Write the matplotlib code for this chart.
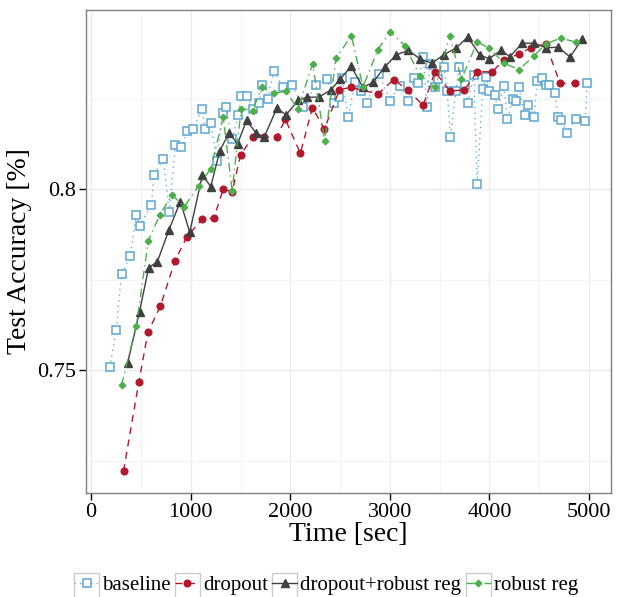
import numpy as np
import matplotlib
matplotlib.use("Agg")
import matplotlib.pyplot as plt
from matplotlib.patches import Rectangle

# data
baseline_t = [188, 251, 305, 393, 453, 486, 604, 634, 725, 785, 846, 906, 967, 1023,
              1114, 1141, 1201, 1262, 1322, 1352, 1416, 1476, 1503, 1567, 1627, 1688,
              1715, 1772, 1836, 1927, 2014, 2131, 2254, 2373, 2437, 2494, 2518, 2584,
              2646, 2709, 2767, 2888, 3004, 3098, 3185, 3246, 3279, 3336, 3370, 3400,
              3457, 3487, 3545, 3575, 3608, 3662, 3696, 3752, 3782, 3843, 3877, 3933,
              3968, 3994, 4054, 4085, 4145, 4179, 4236, 4270, 4296, 4353, 4387, 4447,
              4481, 4532, 4565, 4598, 4656, 4686, 4719, 4779, 4867, 4961, 4981]
baseline_acc = [0.7508, 0.7612, 0.7766, 0.7815, 0.7929, 0.7898, 0.7957, 0.8040, 0.8084,
                0.7936, 0.8122, 0.8116, 0.8161, 0.8166, 0.8222, 0.8167, 0.8182, 0.8079,
                0.8210, 0.8226, 0.8138, 0.8204, 0.8256, 0.8256, 0.8221, 0.8238, 0.8287,
                0.8249, 0.8325, 0.8282, 0.8287, 0.8228, 0.8287, 0.8304, 0.8238, 0.8254,
                0.8308, 0.8199, 0.8297, 0.8270, 0.8238, 0.8318, 0.8244, 0.8286, 0.8244,
                0.8308, 0.8293, 0.8365, 0.8226, 0.8345, 0.8282, 0.8304, 0.8336, 0.8272,
                0.8144, 0.8272, 0.8336, 0.8288, 0.8238, 0.8316, 0.8014, 0.8276, 0.8309,
                0.8272, 0.8259, 0.8222, 0.8286, 0.8194, 0.8249, 0.8244, 0.8282, 0.8205,
                0.8231, 0.8199, 0.8299, 0.8308, 0.8288, 0.8288, 0.8265, 0.8199, 0.8190,
                0.8156, 0.8193, 0.8189, 0.8293]

dropout_t = [325, 480, 570, 695, 842, 963, 1118, 1232, 1326, 1416, 1500, 1621, 1738,
             1863, 1950, 2101, 2222, 2342, 2494, 2611, 2880, 3037, 3182, 3333, 3454,
             3601, 3749, 3877, 4028, 4145, 4296, 4414, 4565, 4709, 4864]
dropout_acc = [0.7222, 0.7469, 0.7605, 0.7677, 0.7803, 0.7869, 0.7918, 0.7920, 0.8000,
               0.7993, 0.8094, 0.8144, 0.8144, 0.8144, 0.8193, 0.8099, 0.8225, 0.8166,
               0.8275, 0.8281, 0.8263, 0.8302, 0.8274, 0.8231, 0.8324, 0.8271, 0.8274,
               0.8324, 0.8324, 0.8357, 0.8373, 0.8390, 0.8401, 0.8292, 0.8292]

drop_rob_t = [366, 486, 577, 665, 782, 896, 990, 1118, 1201, 1292, 1386, 1470, 1561,
              1655, 1738, 1866, 1957, 2078, 2168, 2286, 2407, 2501, 2611, 2729, 2831,
              2947, 3064, 3185, 3306, 3424, 3541, 3666, 3782, 3903, 3994, 4115, 4205,
              4330, 4447, 4572, 4689, 4810, 4930]
drop_rob_acc = [0.7520, 0.7662, 0.7783, 0.7800, 0.7888, 0.7966, 0.7881, 0.8040, 0.8007,
                0.8106, 0.8156, 0.8125, 0.8190, 0.8155, 0.8144, 0.8224, 0.8205, 0.8245,
                0.8254, 0.8254, 0.8274, 0.8304, 0.8339, 0.8281, 0.8295, 0.8337, 0.8371,
                0.8383, 0.8359, 0.8348, 0.8371, 0.8390, 0.8420, 0.8371, 0.8360, 0.8383,
                0.8366, 0.8403, 0.8403, 0.8390, 0.8392, 0.8365, 0.8414]

robust_t = [305, 453, 574, 691, 812, 937, 1081, 1201, 1326, 1416, 1507, 1621, 1712,
            1833, 1957, 2076, 2224, 2345, 2460, 2614, 2729, 2880, 3000, 3155, 3299,
            3454, 3601, 3719, 3877, 3994, 4145, 4296, 4447, 4565, 4716, 4867]
robust_acc = [0.7459, 0.7622, 0.7857, 0.7930, 0.7984, 0.7952, 0.8010, 0.8056, 0.8199,
              0.7996, 0.8222, 0.8217, 0.8281, 0.8265, 0.8270, 0.8221, 0.8346, 0.8133,
              0.8362, 0.8424, 0.8282, 0.8385, 0.8434, 0.8396, 0.8313, 0.8281, 0.8423,
              0.8304, 0.8406, 0.8390, 0.8348, 0.8330, 0.8368, 0.8401, 0.8417, 0.8406]

labels = ["baseline", "dropout", "dropout+robust reg", "robust reg"]

plt.rcParams['font.family'] = ['Liberation Serif', 'DejaVu Serif']

fig = plt.figure(figsize=(6.27, 5.97), dpi=100)
ax = fig.add_axes([86 / 627, 1 - 493 / 597, (611 - 86) / 627, (493 - 10) / 597])

l1, = ax.plot(baseline_t, baseline_acc, color="#6BAED6", ls=(0, (1, 3)), lw=1.0,
              marker="s", ms=5.2, mfc="white", mec="#5DA5D2", mew=1.1, label=labels[0])
l2, = ax.plot(dropout_t, dropout_acc, color="#B2182B", ls=(0, (5, 4)), lw=1.0,
              marker="o", ms=4.8, label=labels[1])
l3, = ax.plot(drop_rob_t, drop_rob_acc, color="#404040", ls="-", lw=1.0,
              marker="^", ms=6.0, label=labels[2])
l4, = ax.plot(robust_t, robust_acc, color="#4DAF4A", ls=(0, (6, 3, 1, 3)), lw=1.0,
              marker="D", ms=3.3, label=labels[3])

# ggplot-style default expansion
allx = baseline_t + dropout_t + drop_rob_t + robust_t
ally = baseline_acc + dropout_acc + drop_rob_acc + robust_acc
dx = (max(allx) - min(allx)) * 0.05
dy = (max(ally) - min(ally)) * 0.05
ax.set_xlim(min(allx) - dx, max(allx) + dx)
ax.set_ylim(min(ally) - dy, max(ally) + dy)

ax.set_xticks([0, 1000, 2000, 3000, 4000, 5000])
ax.set_xticks([500, 1500, 2500, 3500, 4500], minor=True)
ax.set_yticks([0.75, 0.8])
ax.set_yticklabels(["0.75", "0.8"])
ax.set_yticks([0.725, 0.775, 0.825], minor=True)
ax.grid(which="major", color="#EBEBEB", lw=1.0)
ax.grid(which="minor", color="#F4F4F4", lw=0.8)
ax.set_axisbelow(True)
ax.tick_params(which="major", direction="out", length=5, width=1, color="black",
               labelsize=16, labelcolor="black", pad=2)
ax.tick_params(which="minor", length=0)
for s in ax.spines.values():
    s.set_color("#7F7F7F")
    s.set_linewidth(1.0)

ax.set_xlabel("Time [sec]", fontsize=20, labelpad=0)
ax.set_ylabel("Test Accuracy [%]", fontsize=20, labelpad=4)

leg = fig.legend(handles=[l1, l2, l3, l4], labels=labels, loc="center left",
                 bbox_to_anchor=(74 / 627, 1 - 585 / 597), ncol=4, frameon=False,
                 fontsize=15, handlelength=1.2, handletextpad=0.15,
                 columnspacing=0.2, borderpad=0, borderaxespad=0)

# grey key boxes like ggplot's theme_bw
fig.canvas.draw()
for txt in leg.get_texts():
    bb = txt.get_window_extent()
    cy = (bb.y0 + bb.y1) / 2
    x1 = bb.x0 - 3
    rect = Rectangle(((x1 - 25) / 627, (cy - 12.5) / 597), 25 / 627, 25 / 597,
                     transform=fig.transFigure, fill=False, ec="#CCCCCC", lw=1.0)
    fig.patches.append(rect)

fig.savefig("out.png", dpi=100)
